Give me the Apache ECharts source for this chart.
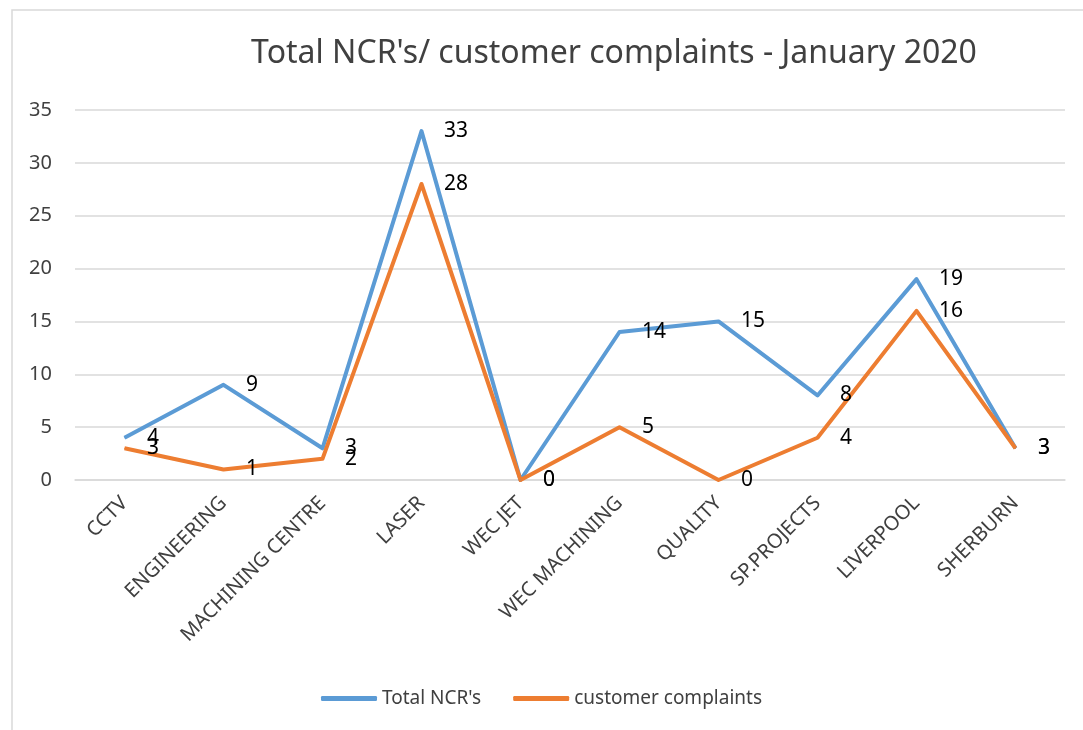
<!DOCTYPE html>
<html>
<head>
<meta charset="utf-8">
<script src="https://cdn.jsdelivr.net/npm/echarts@6/dist/echarts.min.js"></script>
<style>
  html, body { margin: 0; padding: 0; background: #fff; }
  #chart { width: 1083px; height: 730px; }
</style>
</head>
<body>
<div id="chart"></div>
<script>
// Dati del grafico
const categories = ["CCTV", "ENGINEERING", "MACHINING CENTRE", "LASER", "WEC JET", "WEC MACHINING", "QUALITY", "SP.PROJECTS", "LIVERPOOL", "SHERBURN"];
const totalNcr = [4, 9, 3, 33, 0, 14, 15, 8, 19, 3];
const complaints = [3, 1, 2, 28, 0, 5, 0, 4, 16, 3];

const font = "Noto Sans";

function createSeries(name, data, color) {
  return {
    name,
    type: "line",
    data,
    showSymbol: true,
    symbol: "circle",
    symbolSize: 1,
    lineStyle: { color, width: 4, join: "round" },
    itemStyle: { color },
    label: {
      show: true,
      position: "right",
      distance: 22,
      offset: [0, 2],
      color: "#000",
      fontSize: 21,
      fontFamily: font
    },
    labelLayout: { hideOverlap: false }
  };
}

const chart = echarts.init(document.getElementById("chart"));
chart.setOption({
  animation: false,
  textStyle: { fontFamily: font },
  title: {
    text: "Total NCR's/ customer complaints - January 2020",
    left: 609,
    top: 33,
    textAlign: "center",
    textStyle: { fontSize: 32, fontWeight: "normal", color: "#404040", fontFamily: font }
  },
  graphic: [{
    type: "rect",
    shape: { x: 12, y: 10, width: 1100, height: 740 },
    style: { fill: "none", stroke: "#d9d9d9", lineWidth: 1.5 },
    silent: true
  }],
  legend: {
    bottom: 17,
    left: "center",
    itemWidth: 56,
    itemHeight: 5,
    itemGap: 32,
    icon: "roundRect",
    textStyle: { fontSize: 19, color: "#404040", fontFamily: font },
    data: [
      { name: "Total NCR's", itemStyle: { color: "#5B9BD5" } },
      { name: "customer complaints", itemStyle: { color: "#ED7D31" } }
    ]
  },
  grid: { left: 75, right: 18, top: 110, bottom: 250 },
  xAxis: {
    type: "category",
    data: categories,
    boundaryGap: true,
    axisLine: { lineStyle: { color: "#d9d9d9", width: 1.5 } },
    axisTick: { show: false },
    axisLabel: { rotate: 45, interval: 0, margin: 20, fontSize: 20, color: "#404040", fontFamily: font }
  },
  yAxis: {
    type: "value",
    min: 0,
    max: 35,
    interval: 5,
    axisLine: { show: false },
    axisTick: { show: false },
    splitLine: { lineStyle: { color: "#d9d9d9", width: 1.5 } },
    axisLabel: { margin: 23, fontSize: 20, color: "#404040", fontFamily: font }
  },
  series: [
    createSeries("Total NCR's", totalNcr, "#5B9BD5"),
    createSeries("customer complaints", complaints, "#ED7D31")
  ]
});
</script>
</body>
</html>
